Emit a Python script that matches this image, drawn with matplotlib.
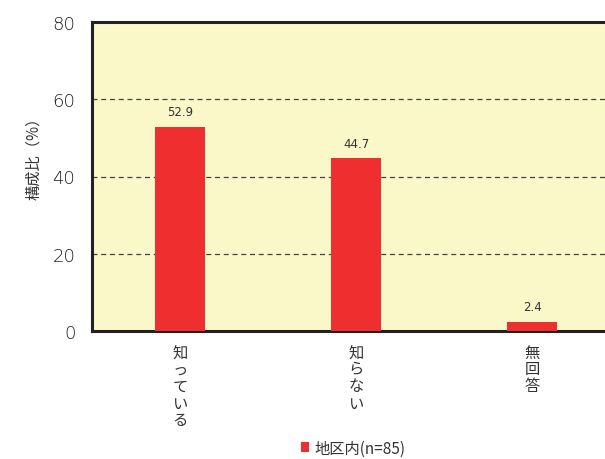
import matplotlib.pyplot as plt
import matplotlib.ticker as ticker

plt.rcParams['font.family'] = ['Noto Sans CJK JP', 'DejaVu Sans']

# 回答区分と構成比
categories = ["知っている", "知らない", "無回答"]
values = [52.9, 44.7, 2.4]
series_name = "地区内(n=85)"

BAR_COLOR = "#ee2e2f"
BG_COLOR = "#faf7c8"
TEXT_COLOR = "#333333"
NUM_FONT = ["DejaVu Sans"]

fig = plt.figure(figsize=(6.05, 4.6), dpi=100)
# 右端は図の外まで伸ばす
ax = fig.add_axes([92 / 605, 128 / 460, 528 / 605, 309 / 460])
ax.set_facecolor(BG_COLOR)

x = range(len(categories))
bars = ax.bar(x, values, width=0.285, color=BAR_COLOR, zorder=3, label=series_name)

for xi, v in zip(x, values):
    ax.annotate(f"{v}", (xi, v), xytext=(0, 6), textcoords="offset points",
                ha="center", va="bottom", fontsize=8.5, color=TEXT_COLOR,
                family=NUM_FONT)

ax.set_xlim(-0.5, 2.5)
ax.set_ylim(0, 80)
ax.yaxis.set_major_locator(ticker.MultipleLocator(20))
ax.yaxis.grid(True, linestyle=(0, (4, 3)), color="#444444", linewidth=0.9, zorder=1)
ax.set_axisbelow(True)

for side in ["left", "top", "bottom", "right"]:
    ax.spines[side].set_linewidth(2.2)
    ax.spines[side].set_color("#222222")

ax.tick_params(axis="both", length=0)
ax.tick_params(axis="y", labelsize=13, labelcolor="#1e1e1e", pad=12)
for lbl in ax.get_yticklabels():
    lbl.set_family(NUM_FONT)
    lbl.set_fontweight("light")
ax.set_xticks(list(x))
# 縦書きラベル
ax.set_xticklabels(["\n".join(c) for c in categories], fontsize=11,
                   color=TEXT_COLOR, linespacing=1.0)
ax.tick_params(axis="x", pad=9)

ax.set_ylabel("構成比（%）", fontsize=11, color=TEXT_COLOR)
ax.yaxis.set_label_coords(-0.094, 0.575)

fig.legend(handles=[bars], labels=[series_name], loc="center",
           bbox_to_anchor=(353 / 605, 1 - 449 / 460), frameon=False,
           fontsize=11, handlelength=0.55, handleheight=0.55, handletextpad=0.3,
           labelcolor=TEXT_COLOR)

fig.savefig("out.png", dpi=100, facecolor="white")
